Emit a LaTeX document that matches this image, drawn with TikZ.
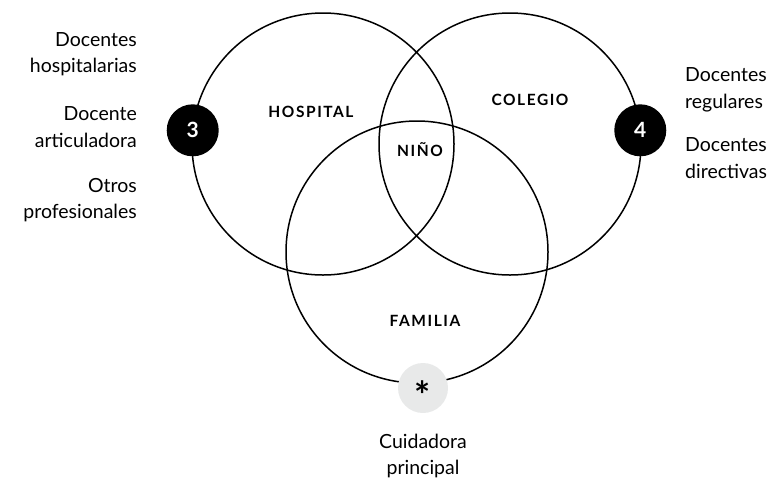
\documentclass[tikz,border=0pt]{standalone}
\usepackage{fontspec}
\setmainfont{Lato}
\newfontfamily\zonefont[LetterSpace=10]{Lato}
\usepackage{xcolor}
\usetikzlibrary{positioning,calc}

\definecolor{gristar}{HTML}{E8E9E9}

\tikzset{
    ring/.style={circle, draw, line width=1.5pt, minimum size=262pt, inner sep=0pt, outer sep=0pt},
    badge/.style={circle, fill=black, text=white, minimum size=52pt, inner sep=0pt, font=\fontsize{21}{21}\selectfont\bfseries},
    starbadge/.style={circle, fill=gristar, minimum size=50pt, inner sep=0pt, font=\fontsize{38}{38}\selectfont\bfseries},
    zone/.style={font=\zonefont\fontsize{15.5}{15.5}\selectfont\bfseries, text height=11pt, text depth=0pt},
    role/.style={font=\fontsize{19.5}{26.5}\selectfont, inner sep=0pt},
}

\begin{document}
\begin{tikzpicture}[x=1pt,y=-1pt]
    \useasboundingbox (0,0) rectangle (776,483);

    \node[ring] (hospital) at (323,144) {};
    \node[ring] (colegio) at (510,144) {};
    \node[ring] (familia) at (417,252) {};

    \node[zone] (hosplabel) at (311,112) {HOSPITAL};
    \node[zone] (colelabel) at (530,100) {COLEGIO};
    \node[zone] (ninolabel) at (420,151) {NIÑO};
    \node[zone] (famlabel) at (425,321) {FAMILIA};

    \node[badge] (tres) at (hospital.174) {3};
    \node[badge] (cuatro) at (colegio.6) {4};
    \node[starbadge] (estrella) at (423,388) {\smash{\raisebox{-21.5pt}{*}}};

    \node[role, align=right, anchor=east] (hospdoc) at (137,54) {Docentes\\hospitalarias};
    \node[role, align=right, anchor=east] (hosparti) at (137,127) {Docente\\articuladora};
    \node[role, align=right, anchor=east] (hospotros) at (137,200) {Otros\\profesionales};
    \node[role, align=left, anchor=west] (colereg) at (685,90) {Docentes\\regulares};
    \node[role, align=left, anchor=west] (coledir) at (685,158) {Docentes\\directivas};
    \node[role, align=center] (cuidadora) at (423,456) {Cuidadora\\principal};
\end{tikzpicture}
\end{document}
